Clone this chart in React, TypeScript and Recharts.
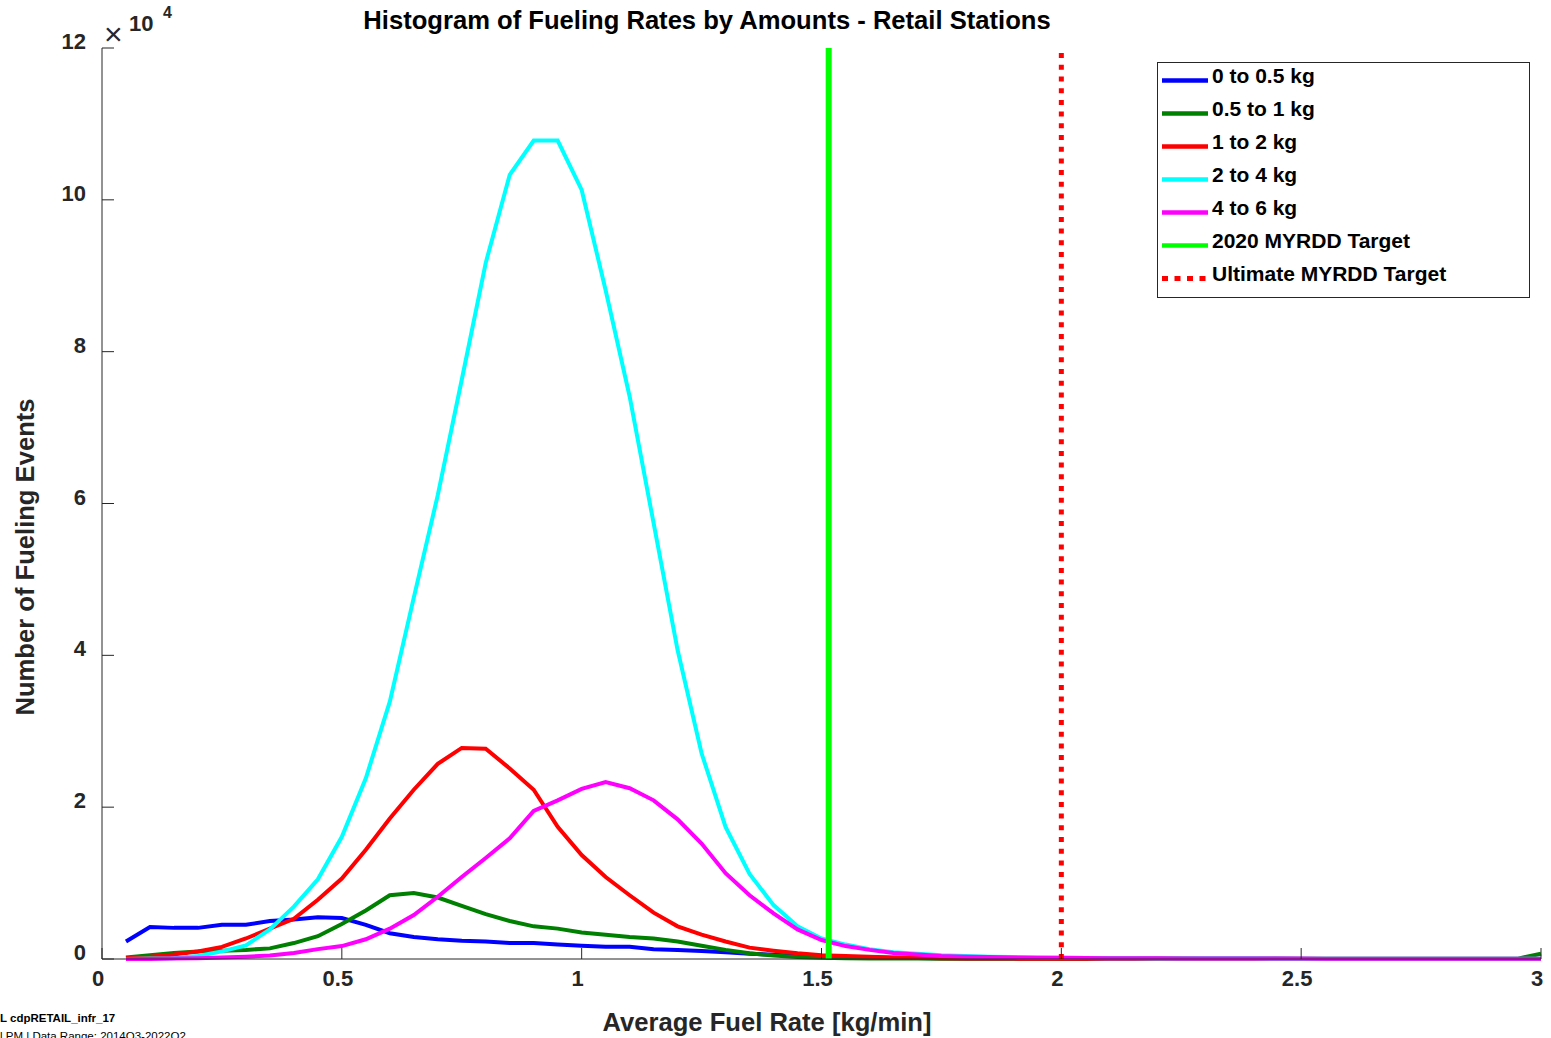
import React from "react";
import { LineChart, Line, XAxis, YAxis, ReferenceLine } from "recharts";

const xValues = [
  0.05, 0.1, 0.15, 0.2, 0.25, 0.3, 0.35, 0.4, 0.45, 0.5,
  0.55, 0.6, 0.65, 0.7, 0.75, 0.8, 0.85, 0.9, 0.95, 1.0,
  1.05, 1.1, 1.15, 1.2, 1.25, 1.3, 1.35, 1.4, 1.45, 1.5,
  1.55, 1.6, 1.65, 1.7, 1.75, 1.8, 1.85, 1.9, 1.95, 2.0,
  2.05, 2.1, 2.15, 2.2, 2.25, 2.3, 2.35, 2.4, 2.45, 2.5,
  2.55, 2.6, 2.65, 2.7, 2.75, 2.8, 2.85, 2.9, 2.95, 3.0,
];

// values in units of 10^4 fueling events
const blue05 = [
  0.23, 0.42, 0.41, 0.41, 0.45, 0.45, 0.5, 0.52, 0.55, 0.54,
  0.45, 0.34, 0.29, 0.26, 0.24, 0.23, 0.21, 0.21, 0.19, 0.175,
  0.16, 0.16, 0.13, 0.12, 0.105, 0.09, 0.07, 0.055, 0.04, 0.03,
  0.025, 0.02, 0.015, 0.012, 0.01, 0.008, 0.007, 0.006, 0.005, 0.004,
  0.004, 0.003, 0.003, 0.003, 0.002, 0.002, 0.002, 0.002, 0.002, 0.001,
  0.001, 0.001, 0.001, 0.001, 0.001, 0.001, 0.001, 0.001, 0.001, 0.001,
];
const green051 = [
  0.02, 0.05, 0.08, 0.1, 0.11, 0.12, 0.14, 0.21, 0.3, 0.46,
  0.64, 0.84, 0.87, 0.81, 0.7, 0.59, 0.5, 0.43, 0.4, 0.35,
  0.32, 0.29, 0.27, 0.23, 0.175, 0.12, 0.075, 0.045, 0.025, 0.015,
  0.01, 0.008, 0.006, 0.005, 0.004, 0.004, 0.003, 0.003, 0.003, 0.002,
  0.002, 0.002, 0.002, 0.002, 0.002, 0.002, 0.002, 0.002, 0.002, 0.002,
  0.002, 0.002, 0.002, 0.002, 0.002, 0.002, 0.002, 0.002, 0.002, 0.07,
];
const red12 = [
  0.01, 0.03, 0.06, 0.1, 0.16, 0.27, 0.4, 0.53, 0.78, 1.06,
  1.44, 1.85, 2.23, 2.57, 2.78, 2.77, 2.51, 2.23, 1.74, 1.37,
  1.08, 0.84, 0.61, 0.43, 0.32, 0.23, 0.15, 0.11, 0.075, 0.05,
  0.04, 0.03, 0.02, 0.015, 0.01, 0.008, 0.006, 0.005, 0.004, 0.003,
  0.003, 0.002, 0.002, 0.002, 0.002, 0.001, 0.001, 0.001, 0.001, 0.001,
  0.001, 0.001, 0.001, 0.001, 0.001, 0.001, 0.001, 0.001, 0.001, 0.001,
];
const cyan24 = [
  0.0, 0.005, 0.01, 0.04, 0.1, 0.18, 0.39, 0.69, 1.05, 1.61,
  2.38, 3.39, 4.76, 6.11, 7.63, 9.17, 10.33, 10.78, 10.78, 10.13,
  8.81, 7.41, 5.74, 4.07, 2.71, 1.74, 1.12, 0.71, 0.43, 0.27,
  0.19, 0.13, 0.09, 0.07, 0.05, 0.04, 0.03, 0.025, 0.02, 0.015,
  0.012, 0.01, 0.009, 0.008, 0.007, 0.006, 0.005, 0.005, 0.004, 0.004,
  0.003, 0.003, 0.003, 0.003, 0.002, 0.002, 0.002, 0.002, 0.002, 0.002,
];
const magenta46 = [
  0.0, 0.0, 0.005, 0.01, 0.02, 0.03, 0.045, 0.08, 0.13, 0.17,
  0.26, 0.4, 0.58, 0.82, 1.08, 1.33, 1.59, 1.95, 2.09, 2.24,
  2.33, 2.25, 2.09, 1.84, 1.52, 1.13, 0.84, 0.6, 0.39, 0.25,
  0.17, 0.12, 0.08, 0.06, 0.04, 0.03, 0.025, 0.02, 0.017, 0.015,
  0.012, 0.011, 0.01, 0.009, 0.008, 0.007, 0.006, 0.006, 0.005, 0.005,
  0.004, 0.004, 0.004, 0.003, 0.003, 0.003, 0.003, 0.003, 0.003, 0.003,
];

const target2020 = 1.515;
const targetUltimate = 2.0;

const xTicks = [0, 0.5, 1, 1.5, 2, 2.5, 3];
const yTicks = [0, 2, 4, 6, 8, 10, 12];

const seriesKeys = ["s1", "s2", "s3", "s4", "s5"];
const seriesNames = ["0 to 0.5 kg", "0.5 to 1 kg", "1 to 2 kg", "2 to 4 kg", "4 to 6 kg"];
const seriesColors = ["#0000FF", "#008000", "#FF0000", "#00FFFF", "#FF00FF"];
const seriesValues = [blue05, green051, red12, cyan24, magenta46];

const legendItems = [
  ...seriesNames.map((n, i) => ({ name: n, color: seriesColors[i], dotted: false })),
  { name: "2020 MYRDD Target", color: "#00FF00", dotted: false },
  { name: "Ultimate MYRDD Target", color: "#FF0000", dotted: true },
];

const data = xValues.map((x, i) => {
  const row: Record<string, number> = { x };
  seriesKeys.forEach((k, j) => {
    row[k] = seriesValues[j][i];
  });
  return row;
});

const FONT = "'Liberation Sans', Arial, Helvetica, sans-serif";
const AXIS = "#262626";

const BottomTick = (props: any) => {
  const { x, y, payload } = props;
  return (
    <g>
      <line x1={x} y1={y} x2={x} y2={y - 11} stroke={AXIS} strokeWidth={1} />
      <text x={x - 4} y={y + 27} textAnchor="middle" fontFamily={FONT} fontWeight="bold" fontSize={22} fill={AXIS}>
        {String(payload.value)}
      </text>
    </g>
  );
};
const TopTick = (props: any) => {
  const { x, y } = props;
  return <line x1={x} y1={y} x2={x} y2={y + 11} stroke={AXIS} strokeWidth={1} />;
};
const LeftTick = (props: any) => {
  const { x, y, payload } = props;
  return (
    <g>
      <line x1={x} y1={y} x2={x + 12} y2={y} stroke={AXIS} strokeWidth={1} />
      <text x={x - 16} y={y + 1} textAnchor="end" fontFamily={FONT} fontWeight="bold" fontSize={22} fill={AXIS}>
        {String(payload.value)}
      </text>
    </g>
  );
};
const RightTick = (props: any) => {
  const { x, y } = props;
  return <line x1={x} y1={y} x2={x - 12} y2={y} stroke={AXIS} strokeWidth={1} />;
};

export default function App() {
  return (
    <div style={{ position: "absolute", left: 0, top: 0, width: 1551, height: 1038, overflow: "hidden", background: "#fff" }}>
      <LineChart width={1551} height={1038} data={data} margin={{ top: 48, right: 10, left: 0, bottom: 0 }}>
        <XAxis
          dataKey="x"
          type="number"
          domain={[0, 3]}
          ticks={xTicks}
          height={79}
          tickSize={0}
          tickMargin={0}
          tickLine={false}
          axisLine={{ stroke: AXIS, strokeWidth: 1 }}
          tick={<BottomTick />}
          interval={0}
        />
        <XAxis
          xAxisId="top"
          orientation="top"
          dataKey="x"
          type="number"
          domain={[0, 3]}
          ticks={xTicks}
          height={0}
          tickSize={0}
          tickMargin={0}
          tickLine={false}
          axisLine={{ stroke: AXIS, strokeWidth: 1 }}
          tick={<TopTick />}
          interval={0}
        />
        <YAxis
          type="number"
          domain={[0, 12]}
          ticks={yTicks}
          width={102}
          tickSize={0}
          tickMargin={0}
          tickLine={false}
          axisLine={{ stroke: AXIS, strokeWidth: 1 }}
          tick={<LeftTick />}
          interval={0}
        />
        <YAxis
          yAxisId="right"
          orientation="right"
          type="number"
          domain={[0, 12]}
          ticks={yTicks}
          width={0}
          tickSize={0}
          tickMargin={0}
          tickLine={false}
          axisLine={{ stroke: AXIS, strokeWidth: 1 }}
          tick={<RightTick />}
          interval={0}
        />
        {seriesKeys.map((k, i) => (
          <Line
            key={k}
            dataKey={k}
            name={seriesNames[i]}
            stroke={seriesColors[i]}
            strokeWidth={4}
            dot={false}
            activeDot={false}
            type="linear"
            isAnimationActive={false}
          />
        ))}
        <ReferenceLine x={target2020} stroke="#00FF00" strokeWidth={6} />
        <ReferenceLine x={targetUltimate} stroke="#FF0000" strokeWidth={5} strokeDasharray="5 6.7" />
      </LineChart>

      <svg width={1551} height={1038} style={{ position: "absolute", left: 0, top: 0, pointerEvents: "none" }}>
        <text x={707} y={29} textAnchor="middle" fontFamily={FONT} fontWeight="bold" fontSize={25.6} fill="#000">
          Histogram of Fueling Rates by Amounts - Retail Stations
        </text>
        <text x={767} y={1031} textAnchor="middle" fontFamily={FONT} fontWeight="bold" fontSize={25.6} fill={AXIS}>
          Average Fuel Rate [kg/min]
        </text>
        <text transform="rotate(-90)" x={-557} y={34} textAnchor="middle" fontFamily={FONT} fontWeight="bold" fontSize={25.6} fill={AXIS}>
          Number of Fueling Events
        </text>
        <text x={104} y={45} fontFamily={FONT} fontSize={32} fill={AXIS}>×</text>
        <text x={129} y={31} fontFamily={FONT} fontWeight="bold" fontSize={22} fill={AXIS}>10</text>
        <text x={163} y={18} fontFamily={FONT} fontWeight="bold" fontSize={16} fill={AXIS}>4</text>
        <text x={0} y={1022} fontFamily={FONT} fontWeight="bold" fontSize={11.5} fill="#000">L cdpRETAIL_infr_17</text>
        <text x={0} y={1040} fontFamily={FONT} fontSize={11.5} fill="#000">l PM | Data Range: 2014Q3-2022Q2</text>

        <rect x={1157.5} y={62.5} width={372} height={235} fill="#fff" stroke={AXIS} strokeWidth={1} />
        {legendItems.map((it, i) => {
          const ty = 83 + 33 * i;
          const ly = 80.5 + 33 * i;
          return (
            <g key={it.name}>
              {it.dotted ? (
                <line x1={1162} y1={ly} x2={1208} y2={ly} stroke={it.color} strokeWidth={5} strokeDasharray="6 6.5" />
              ) : (
                <line x1={1162} y1={ly} x2={1208} y2={ly} stroke={it.color} strokeWidth={4.5} />
              )}
              <text x={1212} y={ty} fontFamily={FONT} fontWeight="bold" fontSize={21} fill="#000">
                {it.name}
              </text>
            </g>
          );
        })}
      </svg>
    </div>
  );
}
